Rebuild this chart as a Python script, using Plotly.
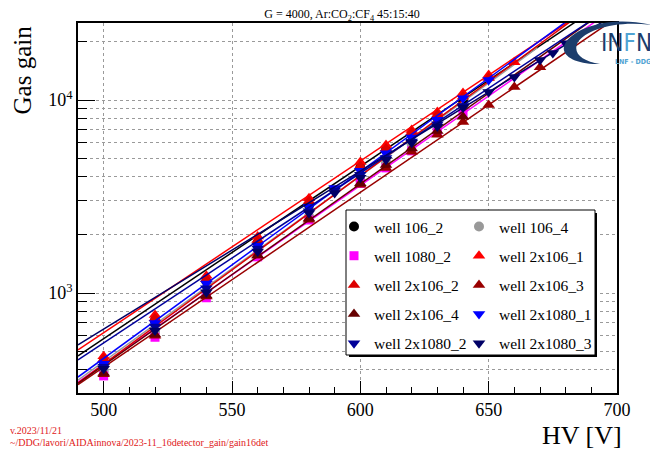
import numpy as np
import plotly.graph_objects as go

# ---------------- data ----------------
names = ["well 106_2", "well 106_4", "well 1080_2", "well 2x106_1", "well 2x106_2",
         "well 2x106_3", "well 2x106_4", "well 2x1080_1", "well 2x1080_2", "well 2x1080_3"]
colors = ["#000000", "#999999", "#ff00ff", "#ff0000", "#dd0000",
          "#990000", "#660000", "#0000ff", "#000099", "#000066"]
symbols = ["circle", "circle", "square", "triangle-up", "triangle-up",
           "triangle-up", "triangle-up", "triangle-down", "triangle-down", "triangle-down"]

hv_106_2 = [500, 520, 540, 560, 580, 600, 610, 620, 630, 640]
gain_106_2 = [440, 720, 1150, 1820, 2850, 4450, 5500, 6600, 8100, 9900]
hv_106_4 = [500, 520, 540, 560, 580, 600, 610, 620, 630, 640]
gain_106_4 = [395, 630, 990, 1600, 2500, 3850, 4750, 5900, 7200, 9000]
hv_1080_2 = [500, 520, 540, 560, 580, 600, 610, 620, 630, 640]
gain_1080_2 = [372, 590, 945, 1540, 2390, 3700, 4450, 5450, 6800, 8500]
hv_2x106_1 = [500, 520, 540, 560, 580, 600, 610, 620, 630, 640, 650, 660]
gain_2x106_1 = [470, 770, 1230, 1960, 3100, 4780, 5850, 7000, 8670, 10870, 13480, 15700]
hv_2x106_2 = [500, 520, 540, 560, 580, 600, 610, 620, 630, 640, 650]
gain_2x106_2 = [455, 740, 1180, 1880, 3000, 4550, 5600, 6800, 8400, 10400, 13000]
hv_2x106_3 = [500, 520, 540, 560, 580, 600, 610, 620, 630, 640, 650, 660, 670]
gain_2x106_3 = [380, 600, 960, 1560, 2400, 3640, 4450, 5400, 6600, 7700, 9420, 11670, 14800]
hv_2x106_4 = [500, 520, 540, 560, 580, 600, 610, 620, 630, 640]
gain_2x106_4 = [385, 610, 970, 1570, 2430, 3700, 4600, 5600, 6900, 8200]
hv_2x1080_1 = [500, 520, 540, 560, 580, 590, 600, 610, 620, 630, 640, 650]
gain_2x1080_1 = [430, 700, 1120, 1760, 2800, 3500, 4300, 5300, 6400, 7900, 10200, 12700]
hv_2x1080_2 = [500, 520, 540, 560, 580, 590, 600, 610, 620, 630, 640]
gain_2x1080_2 = [415, 670, 1060, 1700, 2650, 3400, 4100, 5000, 6100, 7500, 9300]
hv_2x1080_3 = [500, 520, 540, 560, 580, 590, 600, 610, 620, 630, 640, 650, 660, 670, 675, 680]
gain_2x1080_3 = [405, 640, 1010, 1640, 2600, 3300, 3950, 4900, 6000, 7300, 9150, 11000,
                 13150, 16100, 17500, 19700]

hv_series = [hv_106_2, hv_106_4, hv_1080_2, hv_2x106_1, hv_2x106_2,
             hv_2x106_3, hv_2x106_4, hv_2x1080_1, hv_2x1080_2, hv_2x1080_3]
gain_series = [gain_106_2, gain_106_4, gain_1080_2, gain_2x106_1, gain_2x106_2,
               gain_2x106_3, gain_2x106_4, gain_2x1080_1, gain_2x1080_2, gain_2x1080_3]

# exponential fit results (gain at 490 V, log10 slope per volt, fit range end)
fit_hv_min = 490
fit_gain_at_490 = [472, 354, 345, 507, 342, 335, 340, 367, 450, 538]
fit_log10_slope = [0.00893, 0.00962, 0.00927, 0.0089, 0.00976, 0.00906, 0.0094, 0.00968, 0.0088, 0.00819]
fit_hv_max = [700, 669, 700, 700, 700, 700, 700, 700, 700, 700]

x_ticks = [500, 550, 600, 650, 700]
y_ticks = [1000, 10000]
y_ticktext = ["10<sup>3</sup>", "10<sup>4</sup>"]
y_minor = [300, 400, 500, 600, 700, 800, 900, 2000, 3000, 4000, 5000, 6000, 7000, 8000, 9000, 20000]

# ---------------- figure ----------------
OFF = 8  # page body margin
W, H = 658 - OFF, 449 - OFF
PL, PR, PT, PB = 78, 617, 23, 393  # plot area in window pixels
L, R, T, B = PL - OFF, 658 - PR, PT - OFF, 449 - PB
PW, PH = PR - PL, PB - PT
SERIF = "Liberation Serif, Times New Roman, serif"


def px(X):
    return (X - PL) / PW


def py(Y):
    return (PB - Y) / PH


fig = go.Figure()
for i in range(len(names)):
    leg = "legend" if i % 2 == 0 else "legend2"
    sym = symbols[i]
    msize = 11 if "triangle" in sym else (9 if sym == "square" else 10)
    fig.add_trace(go.Scatter(
        x=hv_series[i], y=gain_series[i], mode="markers", name=names[i],
        legendgroup=names[i], legend=leg,
        marker=dict(symbol=sym, color=colors[i], size=msize, line=dict(width=0)),
    ))
    fx = np.array([fit_hv_min, fit_hv_max[i]], dtype=float)
    fy = fit_gain_at_490[i] * 10 ** (fit_log10_slope[i] * (fx - fit_hv_min))
    fig.add_trace(go.Scatter(
        x=fx, y=fy, mode="lines", showlegend=False, legendgroup=names[i], legend=leg,
        line=dict(color=colors[i], width=1.5), hoverinfo="skip",
    ))

grid = dict(gridcolor="#9a9a9a", griddash="dot", gridwidth=1)

fig.update_xaxes(
    range=[490, 700], tickvals=x_ticks, ticks="inside", ticklen=12, tickwidth=1, tickcolor="black",
    showgrid=True, **grid,
    minor=dict(dtick=10, tick0=500, ticks="inside", ticklen=6, tickcolor="black", showgrid=False),
    showline=True, mirror=True, linecolor="black", linewidth=1.5,
    tickfont=dict(family=SERIF, size=18, color="black"), zeroline=False,
)
fig.update_yaxes(
    type="log", range=[2.482, 4.399], tickvals=y_ticks, ticktext=y_ticktext,
    ticks="inside", ticklen=17, tickwidth=1, tickcolor="black",
    showgrid=True, **grid,
    minor=dict(tickvals=y_minor, ticks="inside", ticklen=9, tickcolor="black", showgrid=True, **grid),
    showline=True, mirror=True, linecolor="black", linewidth=1.5,
    tickfont=dict(family=SERIF, size=18, color="black"), zeroline=False,
)

# legend box with shadow
shapes = [
    dict(type="rect", xref="paper", yref="paper", x0=px(349), x1=px(597), y0=py(357), y1=py(213),
         fillcolor="black", line=dict(width=0), layer="above"),
    dict(type="rect", xref="paper", yref="paper", x0=px(346), x1=px(595), y0=py(355), y1=py(210),
         fillcolor="white", line=dict(color="black", width=1), layer="above"),
]


def P(X, Y):
    return f"{px(X):.4f},{py(Y):.4f}"


arc = (f"M {P(600,64)} C {P(575,65)} {P(559,55)} {P(565,44)} "
       f"C {P(573,28)} {P(610,15)} {P(652,25)} "
       f"C {P(615,20)} {P(586,30)} {P(578,42)} "
       f"C {P(572,53)} {P(582,61)} {P(600,64)} Z")
shapes.append(dict(type="path", xref="paper", yref="paper", path=arc,
                   fillcolor="#1c3d6c", line=dict(width=0), layer="above"))

leg_common = dict(xanchor="left", yanchor="top", bgcolor="rgba(0,0,0,0)", borderwidth=0,
                  font=dict(family=SERIF, size=15.5, color="black"),
                  tracegroupgap=6, orientation="v")

annotations = [
    dict(text="Gas gain", xref="paper", yref="paper", x=px(22), y=1.0, xanchor="center", yanchor="top",
         textangle=-90, showarrow=False, font=dict(family=SERIF, size=25, color="black")),
    dict(text="HV [V]", xref="paper", yref="paper", x=px(624), y=py(435), xanchor="right", yanchor="middle",
         showarrow=False, font=dict(family=SERIF, size=26, color="black")),
    dict(text="v.2023/11/21", xref="paper", yref="paper", x=px(8), y=py(430), xanchor="left",
         yanchor="middle", showarrow=False, font=dict(family=SERIF, size=10, color="#e02020")),
    dict(text="~/DDG/lavori/AIDAinnova/2023-11_16detector_gain/gain16det", xref="paper", yref="paper",
         x=px(8), y=py(442), xanchor="left", yanchor="middle", showarrow=False,
         font=dict(family=SERIF, size=10, color="#e02020")),
    dict(text="<span style='color:#1c3d6c'>IN</span><span style='color:#4fa3d3'>F</span>"
              "<span style='color:#1c3d6c'>N</span>",
         xref="paper", yref="paper", x=px(654), y=py(43), xanchor="right", yanchor="middle",
         showarrow=False, font=dict(family="DejaVu Sans Condensed", size=24)),
    dict(text="<b>LNF - DDG</b>", xref="paper", yref="paper", x=px(653), y=py(62), xanchor="right",
         yanchor="middle", showarrow=False, font=dict(family="DejaVu Sans Condensed", size=7, color="#4fa3d3")),
]

fig.update_layout(
    width=W, height=H, margin=dict(l=L, r=R, t=T, b=B, autoexpand=False),
    paper_bgcolor="white", plot_bgcolor="white",
    font=dict(family=SERIF, color="black"),
    title=dict(text="G = 4000, Ar:CO<sub>2</sub>:CF<sub>4</sub> 45:15:40", x=px(342), xanchor="center",
               y=1 - (14 - OFF) / H, yanchor="middle", xref="paper",
               font=dict(family=SERIF, size=12, color="black")),
    showlegend=True,
    legend=dict(x=px(334), y=py(210), **leg_common),
    legend2=dict(x=px(459), y=py(210), **leg_common),
    shapes=shapes, annotations=annotations,
)

fig.write_html("out.html")
